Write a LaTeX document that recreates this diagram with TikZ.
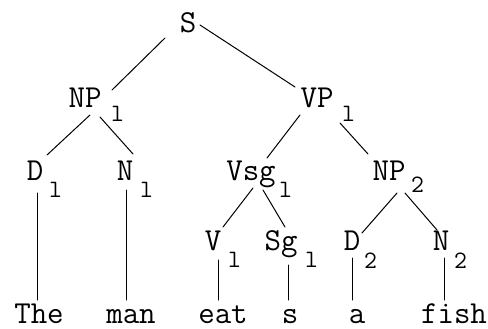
\documentclass[tikz,border=0pt]{standalone}
\usepackage{fontspec}
\tikzset{
  lbl/.style={anchor=base, inner sep=0pt, font=\ttfamily\fontsize{32}{32}\selectfont},
  subs/.style={anchor=base west, inner sep=0pt, font=\ttfamily\fontsize{25}{25}\selectfont},
  branch/.style={line width=1pt, line cap=round},
}
\begin{document}
\begin{tikzpicture}[x=1pt, y=-1pt]
  \useasboundingbox (0,0) rectangle (488,329);
  % category labels
  \node[lbl] (S)   at (188,33)  {S};
  \node[lbl] (NP1) at (85,107)  {NP};
  \node[subs] (NP1s) at (111,122) {l};
  \node[lbl] (VP1) at (317,107) {VP};
  \node[subs] (VP1s) at (342,122) {l};
  \node[lbl] (D1)  at (35,180)  {D};
  \node[subs] (D1s) at (49,197) {l};
  \node[lbl] (N1)  at (125,180) {N};
  \node[subs] (N1s) at (140,197) {l};
  \node[lbl] (Vsg) at (251,180) {Vsg};
  \node[subs] (Vsgs) at (279,197) {l};
  \node[lbl] (NP2) at (389,180) {NP};
  \node[subs] (NP2s) at (411,193) {2};
  \node[lbl] (V1)  at (213,250) {V};
  \node[subs] (V1s) at (228,267) {l};
  \node[lbl] (Sg1) at (281,250) {Sg};
  \node[subs] (Sg1s) at (305,267) {l};
  \node[lbl] (D2)  at (352,250) {D};
  \node[subs] (D2s) at (364,268) {2};
  \node[lbl] (N2)  at (441,250) {N};
  \node[subs] (N2s) at (454,268) {2};
  % words
  \node[lbl] (w1) at (39,323)  {The};
  \node[lbl] (w2) at (131,323) {man};
  \node[lbl] (w3) at (223,323) {eat};
  \node[lbl] (w4) at (290,323) {s};
  \node[lbl] (w5) at (357,323) {a};
  \node[lbl] (w6) at (454,323) {fish};
  % branches
  \draw[branch] ([shift={(-23,5)}]S.base) -- ([shift={(27,-17)}]NP1.base);
  \draw[branch] ([shift={(12,-8)}]S.base) -- ([shift={(-22,-20)}]VP1.base);
  \draw[branch] ([shift={(5,8)}]NP1.base) -- ([shift={(12,-25)}]D1.base);
  \draw[branch] ([shift={(15,10)}]NP1.base) -- ([shift={(8,-26)}]N1.base);
  \draw[branch] ([shift={(-17,8)}]VP1.base) -- ([shift={(16,-22)}]Vsg.base);
  \draw[branch] ([shift={(23,16)}]VP1.base) -- ([shift={(-21,-26)}]NP2.base);
  \draw[branch] ([shift={(2,8)}]Vsg.base) -- ([shift={(10,-23)}]V1.base);
  \draw[branch] ([shift={(12,10)}]Vsg.base) -- ([shift={(4,-23)}]Sg1.base);
  \draw[branch] ([shift={(8,13)}]NP2.base) -- ([shift={(10,-17)}]D2.base);
  \draw[branch] ([shift={(16,13)}]NP2.base) -- ([shift={(-4,-20)}]N2.base);
  \draw[branch] ([shift={(2,13)}]D1.base) -- ([shift={(-2,-23)}]w1.base);
  \draw[branch] ([shift={(1,10)}]N1.base) -- ([shift={(-5,-23)}]w2.base);
  \draw[branch] ([shift={(5,10)}]V1.base) -- ([shift={(-5,-23)}]w3.base);
  \draw[branch] ([shift={(7,15)}]Sg1.base) -- ([shift={(-2,-23)}]w4.base);
  \draw[branch] ([shift={(0,8)}]D2.base) -- ([shift={(-5,-23)}]w5.base);
  \draw[branch] ([shift={(3,8)}]N2.base) -- ([shift={(-10,-23)}]w6.base);
\end{tikzpicture}
\end{document}
